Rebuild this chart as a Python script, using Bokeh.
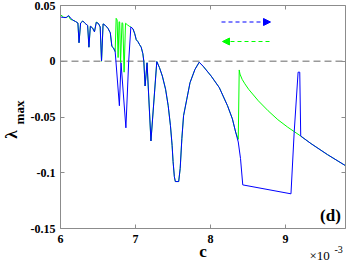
from bokeh.plotting import figure
from bokeh.models import Label, Arrow, NormalHead, LinearAxis, FixedTicker, Range1d
from bokeh.embed import file_html
from bokeh.resources import INLINE
import math

# ---- data (c in units of 1e-3) ----
c_fwd = [6.004, 6.043, 6.076, 6.108, 6.134, 6.160, 6.199, 6.232, 6.247, 6.268,
         6.297, 6.329, 6.362, 6.379, 6.398, 6.427, 6.453, 6.477, 6.505, 6.529,
         6.547, 6.568, 6.599, 6.633, 6.664, 6.685, 6.707, 6.729, 6.785, 6.807,
         6.872, 6.909, 6.938, 6.967, 6.990, 7.010, 7.033, 7.055, 7.076, 7.098,
         7.111, 7.128, 7.154, 7.206, 7.284, 7.319, 7.358, 7.401, 7.436, 7.466,
         7.488, 7.501, 7.518, 7.531, 7.576, 7.596, 7.618, 7.641, 7.684, 7.727,
         7.792, 7.849, 7.901, 8.009, 8.117, 8.227, 8.292, 8.335, 8.370, 8.400,
         8.430, 9.073, 9.116, 9.168, 9.190, 9.203, 9.341, 9.559, 9.806]
lam_fwd = [0.0397, 0.0392, 0.0392, 0.0410, 0.0388, 0.0370, 0.0357, 0.0343, 0.0166, 0.0343,
           0.0361, 0.0339, 0.0321, 0.0126, 0.0314, 0.0299, 0.0264, 0.0348, 0.0339, 0.0308,
           0.0002, 0.0335, 0.0321, 0.0295, 0.0255, 0.0133, 0.0119, 0.0086, -0.0399, -0.0014,
           -0.0597, -0.0003, 0.0308, 0.0290, 0.0246, 0.0193, 0.0175, 0.0148, 0.0126, 0.0068,
           0.0000, -0.0222, -0.0014, -0.0715, -0.0003, -0.0056, -0.0133, -0.0251, -0.0399, -0.0577,
           -0.0754, -0.0899, -0.1035, -0.1079, -0.1079, -0.0961, -0.0695, -0.0488, -0.0340, -0.0192,
           -0.0074, -0.0009, -0.0044, -0.0133, -0.0236, -0.0399, -0.0517, -0.0635, -0.0724, -0.0872,
           -0.1109, -0.1189, -0.0635, -0.0098, -0.0098, -0.0671, -0.0739, -0.0837, -0.0939]

c_bwd = [6.004, 6.043, 6.076, 6.108, 6.134, 6.160, 6.199, 6.232, 6.247, 6.268,
         6.297, 6.329, 6.362, 6.379, 6.398, 6.427, 6.453, 6.477, 6.505, 6.529,
         6.547, 6.568, 6.599, 6.633, 6.664, 6.685, 6.707, 6.729, 6.742, 6.755,
         6.768, 6.781, 6.789, 6.801, 6.820, 6.831, 6.848, 6.867, 6.893, 6.924,
         6.938, 6.967, 6.990, 7.010, 7.033, 7.055, 7.076, 7.098,
         7.111, 7.128, 7.154, 7.206, 7.284, 7.319, 7.358, 7.401, 7.436, 7.466,
         7.488, 7.501, 7.518, 7.531, 7.576, 7.596, 7.618, 7.641, 7.684, 7.727,
         7.792, 7.849, 7.901, 8.009, 8.117, 8.227, 8.292, 8.335, 8.370, 8.383,
         8.393, 8.422, 8.458, 8.508, 8.638, 8.768, 8.898, 9.029, 9.125, 9.203,
         9.341, 9.559, 9.806]
lam_bwd = [0.0415, 0.0395, 0.0392, 0.0405, 0.0375, 0.0370, 0.0357, 0.0343, 0.0166, 0.0343,
           0.0361, 0.0339, 0.0321, 0.0126, 0.0314, 0.0299, 0.0264, 0.0352, 0.0339, 0.0308,
           0.0000, 0.0335, 0.0321, 0.0295, 0.0255, 0.0133, 0.0119, 0.0086, 0.0385, 0.0370,
           0.0033, 0.0355, 0.0352, -0.0012, 0.0346, 0.0339, -0.0098, 0.0341, 0.0326, 0.0311,
           0.0308, 0.0290, 0.0246, 0.0193, 0.0175, 0.0148, 0.0126, 0.0068,
           0.0000, -0.0222, -0.0014, -0.0715, -0.0003, -0.0056, -0.0133, -0.0251, -0.0399, -0.0577,
           -0.0754, -0.0899, -0.1035, -0.1079, -0.1079, -0.0961, -0.0695, -0.0488, -0.0340, -0.0192,
           -0.0074, -0.0009, -0.0044, -0.0133, -0.0236, -0.0399, -0.0517, -0.0635, -0.0700, -0.0078,
           -0.0115, -0.0162, -0.0202, -0.0251, -0.0355, -0.0444, -0.0524, -0.0591, -0.0635, -0.0671,
           -0.0739, -0.0837, -0.0939]

x_lim = [6.0, 9.8]
y_lim = [-0.15, 0.05]
zero_level = [0.0, 0.0]
x_ticks = [6, 7, 8, 9]
x_tick_labels = ["6", "7", "8", "9"]
y_ticks = [0.05, 0.0, -0.05, -0.1, -0.15]
y_tick_labels = ["0.05", "0", "-0.05", "-0.1", "-0.15"]

BLUE = "#0000ff"
GREEN = "#00ff00"
GRAY = "#8c8c8c"
FONT = "Liberation Serif"

# ---- layout: the axes box sits inside a full-canvas frame ----
W, H = 346, 265
BOX_L, BOX_R, BOX_T, BOX_B = 60, 345, 5, 228
sx = (BOX_R - BOX_L) / (x_lim[1] - x_lim[0])
x0 = x_lim[0] - BOX_L / sx
x1 = x0 + W / sx
sy = (BOX_B - BOX_T) / (y_lim[1] - y_lim[0])
y1 = y_lim[1] + BOX_T / sy
y0 = y1 - H / sy

p = figure(width=W, height=H, x_range=Range1d(x0, x1), y_range=Range1d(y0, y1),
           output_backend="svg", toolbar_location=None,
           x_axis_location=None, y_axis_location=None,
           min_border_left=0, min_border_right=0, min_border_top=0, min_border_bottom=0)
p.title.visible = False
p.xgrid.visible = False
p.ygrid.visible = False
p.outline_line_color = None
p.background_fill_color = "white"
p.border_fill_color = "white"


def make_axis(ticks, labels, loc, bounds, show_labels, standoff=5):
    ax = LinearAxis(fixed_location=loc, bounds=tuple(bounds), ticker=FixedTicker(ticks=ticks))
    ax.axis_line_color = GRAY
    ax.axis_line_width = 1
    ax.major_tick_line_color = GRAY
    ax.major_tick_in = 4
    ax.major_tick_out = 0
    ax.minor_tick_line_color = None
    if show_labels:
        ax.major_label_overrides = {t: l for t, l in zip(ticks, labels)}
        ax.major_label_text_font = FONT
        ax.major_label_text_font_style = "bold"
        ax.major_label_text_font_size = "12px"
        ax.major_label_text_color = "black"
        ax.major_label_standoff = standoff
    else:
        ax.major_label_text_font_size = "0px"
        ax.major_label_text_alpha = 0
        ax.major_label_standoff = 0
    return ax


p.add_layout(make_axis(x_ticks, x_tick_labels, y_lim[0], x_lim, True, 6), "below")
p.add_layout(make_axis(y_ticks, y_tick_labels, x_lim[0], y_lim, True, 5), "left")
p.add_layout(make_axis(x_ticks, x_tick_labels, y_lim[1], x_lim, False), "above")
p.add_layout(make_axis(y_ticks, y_tick_labels, x_lim[1], y_lim, False), "right")

# zero reference line
p.line(x_lim, zero_level, line_color="#9a9a9a", line_width=1.5, line_dash="7 4")

p.line(c_bwd, lam_bwd, line_color=GREEN, line_width=1.0)
p.line(c_fwd, lam_fwd, line_color=BLUE, line_width=1.0)

# legend-like direction arrows
p.add_layout(Arrow(end=NormalHead(size=7, fill_color=BLUE, line_color=BLUE),
                   x_start=221, y_start=H - 21.5, x_end=270, y_end=H - 21.5,
                   start_units="screen", end_units="screen",
                   line_color=BLUE, line_width=1.2, line_dash="4 3"))
p.add_layout(Arrow(end=NormalHead(size=7, fill_color=GREEN, line_color=GREEN),
                   x_start=269, y_start=H - 41, x_end=222, y_end=H - 41,
                   start_units="screen", end_units="screen",
                   line_color=GREEN, line_width=1.2, line_dash="4 3"))


def lab(text, x, y, size, bold=True, angle=0.0, align="center"):
    p.add_layout(Label(text=text, x=x, y=H - y, x_units="screen", y_units="screen",
                       text_font=FONT, text_font_size=size,
                       text_font_style="bold" if bold else "normal",
                       text_align=align, text_baseline="middle", angle=angle,
                       text_color="black"))


lab("(d)", 330, 215, "17px")
lab("c", 202.5, 251, "17px")
lab("\u00d710", 309, 255, "13px", bold=False, align="left")
lab("-3", 334, 249, "10px", bold=False, align="left")
lab("\u03bb", 11, 134, "17px", angle=math.pi / 2)
lab("max", 19, 112, "13px", angle=math.pi / 2)

open("out.html", "w").write(file_html(p, INLINE))
